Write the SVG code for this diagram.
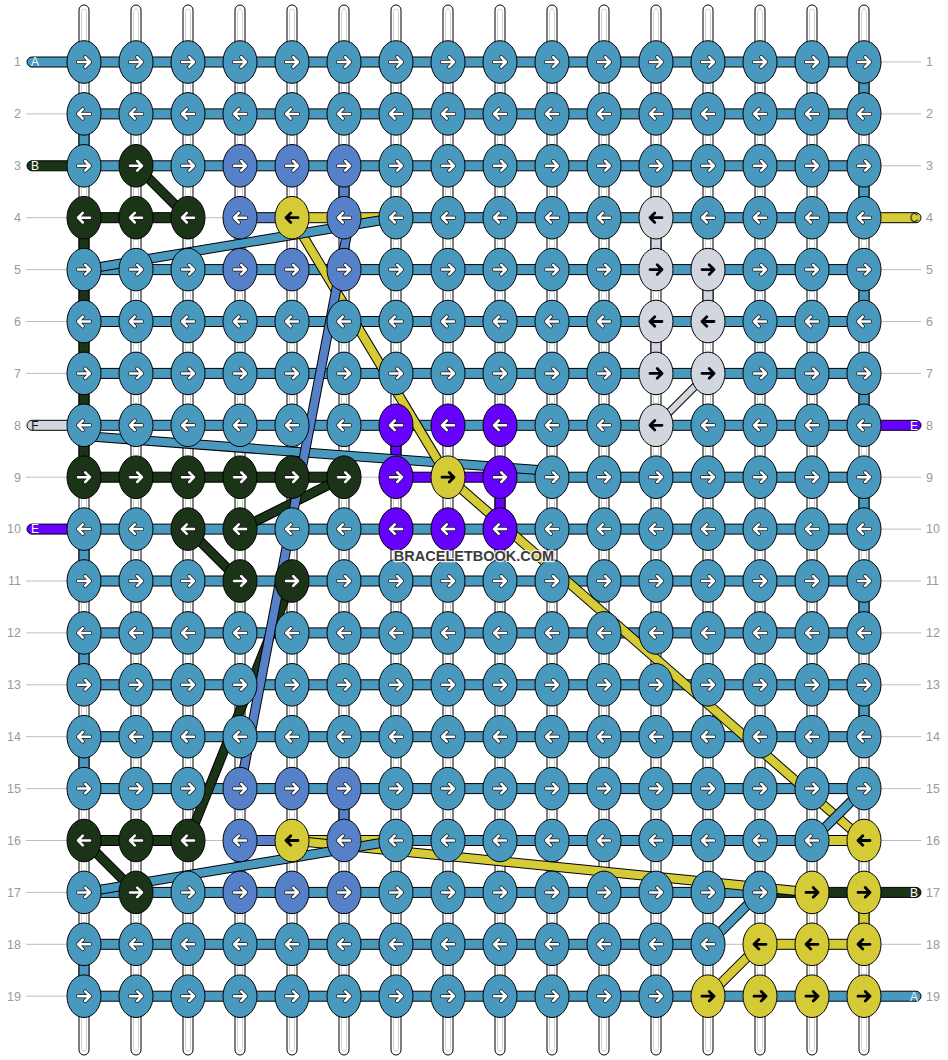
<svg xmlns="http://www.w3.org/2000/svg" width="948" height="1060" viewBox="0 0 948 1060">
<style>
.t{fill:#fff;stroke:#000;stroke-width:1}
.ti{fill:none;stroke:#d2d2d2;stroke-width:1}
.cb{fill:#4999bf;stroke:#000;stroke-width:1}
.cg{fill:#1b3418;stroke:#000;stroke-width:1}
.cp{fill:#5681c9;stroke:#000;stroke-width:1}
.cy{fill:#d5cb37;stroke:#000;stroke-width:1}
.cv{fill:#6600ff;stroke:#000;stroke-width:1}
.cl{fill:#d2d6df;stroke:#000;stroke-width:1}
.gl{fill:none;stroke:#bdbdbd;stroke-width:1}
.o{stroke:#000;stroke-width:10}
.ol{stroke:#000;stroke-width:8}
.db{stroke:#4999bf;stroke-width:8}
.dg{stroke:#1b3418;stroke-width:8}
.dp{stroke:#5681c9;stroke-width:8}
.dy{stroke:#d5cb37;stroke-width:8}
.dl{stroke:#d2d6df;stroke-width:6}
.wo{fill:none;stroke:#1a1a1a;stroke-width:4;stroke-linecap:round;stroke-linejoin:round}
.wi{fill:none;stroke:#fff;stroke-width:2.5;stroke-linecap:round;stroke-linejoin:round}
.ka{fill:none;stroke:#000;stroke-width:2.8;stroke-linecap:round;stroke-linejoin:round}
.lbl{font-family:"Liberation Sans",Arial,sans-serif;font-size:12.5px;fill:#9a9a9a}
.pl{font-family:"Liberation Sans",Arial,sans-serif;font-size:12px;text-anchor:middle}
.wm{font-family:"Liberation Sans",Arial,sans-serif;font-weight:bold;font-size:14.5px;fill:#3c3c3c;stroke:#fff;stroke-opacity:0.85;stroke-width:2.5;paint-order:stroke;stroke-linejoin:round;text-anchor:middle}
</style>
<defs>
<g id="tube"><rect x="-5" y="5" width="10" height="1050" rx="5" class="t"/><rect x="-2.5" y="9" width="5" height="1042" rx="2.5" class="ti"/></g>
<path id="aR" d="M-6 0H6M1.2-4.8L6 0L1.2 4.8"/>
<path id="aL" d="M6 0H-6M-1.2-4.8L-6 0L-1.2 4.8"/>
<g id="wR"><use href="#aR" class="wo"/><use href="#aR" class="wi"/></g>
<g id="wL"><use href="#aL" class="wo"/><use href="#aL" class="wi"/></g>
<g id="bR"><ellipse rx="17" ry="21.3" class="cb"/><use href="#wR"/></g>
<g id="bL"><ellipse rx="17" ry="21.3" class="cb"/><use href="#wL"/></g>
<g id="gR"><ellipse rx="17" ry="21.3" class="cg"/><use href="#wR"/></g>
<g id="gL"><ellipse rx="17" ry="21.3" class="cg"/><use href="#wL"/></g>
<g id="pR"><ellipse rx="17" ry="21.3" class="cp"/><use href="#wR"/></g>
<g id="pL"><ellipse rx="17" ry="21.3" class="cp"/><use href="#wL"/></g>
<g id="vR"><ellipse rx="17" ry="21.3" class="cv"/><use href="#wR"/></g>
<g id="vL"><ellipse rx="17" ry="21.3" class="cv"/><use href="#wL"/></g>
<g id="yR"><ellipse rx="17" ry="21.3" class="cy"/><use href="#aR" class="ka"/></g>
<g id="yL"><ellipse rx="17" ry="21.3" class="cy"/><use href="#aL" class="ka"/></g>
<g id="lR"><ellipse rx="17" ry="21.3" class="cl"/><use href="#aR" class="ka"/></g>
<g id="lL"><ellipse rx="17" ry="21.3" class="cl"/><use href="#aL" class="ka"/></g>
</defs>
<rect width="948" height="1060" fill="#fff"/>
<g id="rowlines">
<path class="gl" d="M26 113.9H84M26 217.7H84M26 269.6H84M26 321.5H84M26 373.4H84M26 477.2H84M26 581H84M26 632.9H84M26 684.8H84M26 736.7H84M26 788.6H84M26 840.5H84M26 892.4H84M26 944.3H84M26 996.2H84"/>
<path class="gl" d="M864 62H921M864 113.9H921M864 165.8H921M864 269.6H921M864 321.5H921M864 373.4H921M864 477.2H921M864 529.1H921M864 581H921M864 632.9H921M864 684.8H921M864 736.7H921M864 788.6H921M864 840.5H921M864 944.3H921"/>
<path class="gl" d="M188 217.7H240M344 477.2H396M188 840.5H240M708 944.3H760"/>
</g>
<g id="connectors">
<g id="tubes">
<use href="#tube" x="84"/><use href="#tube" x="136"/><use href="#tube" x="188"/><use href="#tube" x="240"/><use href="#tube" x="292"/><use href="#tube" x="344"/><use href="#tube" x="396"/><use href="#tube" x="448"/><use href="#tube" x="500"/><use href="#tube" x="552"/><use href="#tube" x="604"/><use href="#tube" x="656"/><use href="#tube" x="708"/><use href="#tube" x="760"/><use href="#tube" x="812"/><use href="#tube" x="864"/>
</g>
<g id="verticals">
<rect x="79" y="113.9" width="10" height="51.9" class="cb"/>
<rect x="79" y="529.1" width="10" height="51.9" class="cb"/>
<rect x="79" y="632.9" width="10" height="51.9" class="cb"/>
<rect x="79" y="736.7" width="10" height="51.9" class="cb"/>
<rect x="79" y="944.3" width="10" height="51.9" class="cb"/>
<rect x="859" y="62" width="10" height="51.9" class="cb"/>
<rect x="859" y="165.8" width="10" height="51.9" class="cb"/>
<rect x="859" y="269.6" width="10" height="51.9" class="cb"/>
<rect x="859" y="373.4" width="10" height="51.9" class="cb"/>
<rect x="859" y="477.2" width="10" height="51.9" class="cb"/>
<rect x="859" y="581" width="10" height="51.9" class="cb"/>
<rect x="859" y="684.8" width="10" height="51.9" class="cb"/>
<rect x="79" y="217.7" width="10" height="259.5" class="cg"/>
<rect x="339" y="165.8" width="10" height="51.9" class="cp"/>
<rect x="339" y="788.6" width="10" height="51.9" class="cp"/>
<rect x="651" y="217.7" width="10" height="51.9" class="cl"/>
<rect x="703" y="269.6" width="10" height="51.9" class="cl"/>
<rect x="651" y="321.5" width="10" height="51.9" class="cl"/>
<rect x="391" y="425.3" width="10" height="51.9" class="cv"/>
<rect x="495" y="477.2" width="10" height="51.9" class="cv"/>
<rect x="859" y="892.4" width="10" height="51.9" class="cy"/>
</g>
<g id="rows">
<rect x="27" y="57" width="837" height="10" rx="5" class="cb"/>
<rect x="84" y="108.9" width="780" height="10" class="cb"/>
<rect x="27" y="160.8" width="57" height="10" rx="5" class="cg"/><rect x="84" y="160.8" width="780" height="10" class="cb"/>
<rect x="84" y="212.7" width="104" height="10" class="cg"/><rect x="240" y="212.7" width="52" height="10" class="cp"/><rect x="292" y="212.7" width="104" height="10" class="cy"/><rect x="864" y="212.7" width="57" height="10" rx="5" class="cy"/><rect x="396" y="212.7" width="468" height="10" class="cb"/>
<rect x="84" y="264.6" width="780" height="10" class="cb"/>
<rect x="84" y="316.5" width="780" height="10" class="cb"/>
<rect x="84" y="368.4" width="780" height="10" class="cb"/>
<rect x="27" y="420.3" width="57" height="10" rx="5" class="cl"/><rect x="864" y="420.3" width="57" height="10" rx="5" class="cv"/><rect x="84" y="420.3" width="780" height="10" class="cb"/>
<rect x="84" y="472.2" width="260" height="10" class="cg"/><rect x="396" y="472.2" width="104" height="10" class="cv"/><rect x="500" y="472.2" width="364" height="10" class="cb"/>
<rect x="27" y="524.1" width="57" height="10" rx="5" class="cv"/><rect x="84" y="524.1" width="780" height="10" class="cb"/>
<rect x="84" y="576" width="780" height="10" class="cb"/>
<rect x="84" y="627.9" width="780" height="10" class="cb"/>
<rect x="84" y="679.8" width="780" height="10" class="cb"/>
<rect x="84" y="731.7" width="780" height="10" class="cb"/>
<rect x="84" y="783.6" width="780" height="10" class="cb"/>
<rect x="84" y="835.5" width="104" height="10" class="cg"/><rect x="240" y="835.5" width="52" height="10" class="cp"/><rect x="292" y="835.5" width="104" height="10" class="cy"/><rect x="396" y="835.5" width="416" height="10" class="cb"/><rect x="812" y="835.5" width="52" height="10" class="cy"/>
<rect x="760" y="887.4" width="161" height="10" rx="5" class="cg"/><rect x="84" y="887.4" width="676" height="10" class="cb"/>
<rect x="84" y="939.3" width="624" height="10" class="cb"/><rect x="760" y="939.3" width="104" height="10" class="cy"/>
<rect x="84" y="991.2" width="837" height="10" rx="5" class="cb"/>
</g>
<g id="diagonals">
<line x1="84" y1="436" x2="552" y2="471" class="o"/><line x1="84" y1="436" x2="552" y2="471" class="db"/>
<line x1="136" y1="165.8" x2="188" y2="217.7" class="o"/><line x1="136" y1="165.8" x2="188" y2="217.7" class="dg"/>
<line x1="344" y1="477.2" x2="240" y2="529.1" class="o"/><line x1="344" y1="477.2" x2="240" y2="529.1" class="dg"/>
<line x1="188" y1="529.1" x2="240" y2="581" class="o"/><line x1="188" y1="529.1" x2="240" y2="581" class="dg"/>
<line x1="292" y1="581" x2="188" y2="840.5" class="o"/><line x1="292" y1="581" x2="188" y2="840.5" class="dg"/>
<line x1="84" y1="840.5" x2="136" y2="892.4" class="o"/><line x1="84" y1="840.5" x2="136" y2="892.4" class="dg"/>
<line x1="292" y1="217.7" x2="448" y2="477.2" class="o"/><line x1="292" y1="217.7" x2="448" y2="477.2" class="dy"/>
<line x1="448" y1="477.2" x2="864" y2="840.5" class="o"/><line x1="448" y1="477.2" x2="864" y2="840.5" class="dy"/>
<line x1="292" y1="840.5" x2="812" y2="892.4" class="o"/><line x1="292" y1="840.5" x2="812" y2="892.4" class="dy"/>
<line x1="760" y1="944.3" x2="708" y2="996.2" class="o"/><line x1="760" y1="944.3" x2="708" y2="996.2" class="dy"/>
<line x1="350" y1="218" x2="240" y2="789" class="o"/><line x1="350" y1="218" x2="240" y2="789" class="dp"/>
<line x1="396" y1="217.7" x2="84" y2="269.6" class="o"/><line x1="396" y1="217.7" x2="84" y2="269.6" class="db"/>
<line x1="396" y1="840.5" x2="84" y2="892.4" class="o"/><line x1="396" y1="840.5" x2="84" y2="892.4" class="db"/>
<line x1="864" y1="788.6" x2="812" y2="840.5" class="o"/><line x1="864" y1="788.6" x2="812" y2="840.5" class="db"/>
<line x1="760" y1="892.4" x2="708" y2="944.3" class="o"/><line x1="760" y1="892.4" x2="708" y2="944.3" class="db"/>
<line x1="708" y1="373.4" x2="656" y2="425.3" class="ol"/><line x1="708" y1="373.4" x2="656" y2="425.3" class="dl"/>
</g>
</g>
<g id="knots">
<g id="k1-1" transform="translate(84 62)"><use href="#bR"/></g>
<g id="k1-2" transform="translate(136 62)"><use href="#bR"/></g>
<g id="k1-3" transform="translate(188 62)"><use href="#bR"/></g>
<g id="k1-4" transform="translate(240 62)"><use href="#bR"/></g>
<g id="k1-5" transform="translate(292 62)"><use href="#bR"/></g>
<g id="k1-6" transform="translate(344 62)"><use href="#bR"/></g>
<g id="k1-7" transform="translate(396 62)"><use href="#bR"/></g>
<g id="k1-8" transform="translate(448 62)"><use href="#bR"/></g>
<g id="k1-9" transform="translate(500 62)"><use href="#bR"/></g>
<g id="k1-10" transform="translate(552 62)"><use href="#bR"/></g>
<g id="k1-11" transform="translate(604 62)"><use href="#bR"/></g>
<g id="k1-12" transform="translate(656 62)"><use href="#bR"/></g>
<g id="k1-13" transform="translate(708 62)"><use href="#bR"/></g>
<g id="k1-14" transform="translate(760 62)"><use href="#bR"/></g>
<g id="k1-15" transform="translate(812 62)"><use href="#bR"/></g>
<g id="k1-16" transform="translate(864 62)"><use href="#bR"/></g>
<g id="k2-1" transform="translate(84 113.9)"><use href="#bL"/></g>
<g id="k2-2" transform="translate(136 113.9)"><use href="#bL"/></g>
<g id="k2-3" transform="translate(188 113.9)"><use href="#bL"/></g>
<g id="k2-4" transform="translate(240 113.9)"><use href="#bL"/></g>
<g id="k2-5" transform="translate(292 113.9)"><use href="#bL"/></g>
<g id="k2-6" transform="translate(344 113.9)"><use href="#bL"/></g>
<g id="k2-7" transform="translate(396 113.9)"><use href="#bL"/></g>
<g id="k2-8" transform="translate(448 113.9)"><use href="#bL"/></g>
<g id="k2-9" transform="translate(500 113.9)"><use href="#bL"/></g>
<g id="k2-10" transform="translate(552 113.9)"><use href="#bL"/></g>
<g id="k2-11" transform="translate(604 113.9)"><use href="#bL"/></g>
<g id="k2-12" transform="translate(656 113.9)"><use href="#bL"/></g>
<g id="k2-13" transform="translate(708 113.9)"><use href="#bL"/></g>
<g id="k2-14" transform="translate(760 113.9)"><use href="#bL"/></g>
<g id="k2-15" transform="translate(812 113.9)"><use href="#bL"/></g>
<g id="k2-16" transform="translate(864 113.9)"><use href="#bL"/></g>
<g id="k3-1" transform="translate(84 165.8)"><use href="#bR"/></g>
<g id="k3-2" transform="translate(136 165.8)"><use href="#gR"/></g>
<g id="k3-3" transform="translate(188 165.8)"><use href="#bR"/></g>
<g id="k3-4" transform="translate(240 165.8)"><use href="#pR"/></g>
<g id="k3-5" transform="translate(292 165.8)"><use href="#pR"/></g>
<g id="k3-6" transform="translate(344 165.8)"><use href="#pR"/></g>
<g id="k3-7" transform="translate(396 165.8)"><use href="#bR"/></g>
<g id="k3-8" transform="translate(448 165.8)"><use href="#bR"/></g>
<g id="k3-9" transform="translate(500 165.8)"><use href="#bR"/></g>
<g id="k3-10" transform="translate(552 165.8)"><use href="#bR"/></g>
<g id="k3-11" transform="translate(604 165.8)"><use href="#bR"/></g>
<g id="k3-12" transform="translate(656 165.8)"><use href="#bR"/></g>
<g id="k3-13" transform="translate(708 165.8)"><use href="#bR"/></g>
<g id="k3-14" transform="translate(760 165.8)"><use href="#bR"/></g>
<g id="k3-15" transform="translate(812 165.8)"><use href="#bR"/></g>
<g id="k3-16" transform="translate(864 165.8)"><use href="#bR"/></g>
<g id="k4-1" transform="translate(84 217.7)"><use href="#gL"/></g>
<g id="k4-2" transform="translate(136 217.7)"><use href="#gL"/></g>
<g id="k4-3" transform="translate(188 217.7)"><use href="#gL"/></g>
<g id="k4-4" transform="translate(240 217.7)"><use href="#pL"/></g>
<g id="k4-5" transform="translate(292 217.7)"><use href="#yL"/></g>
<g id="k4-6" transform="translate(344 217.7)"><use href="#pL"/></g>
<g id="k4-7" transform="translate(396 217.7)"><use href="#bL"/></g>
<g id="k4-8" transform="translate(448 217.7)"><use href="#bL"/></g>
<g id="k4-9" transform="translate(500 217.7)"><use href="#bL"/></g>
<g id="k4-10" transform="translate(552 217.7)"><use href="#bL"/></g>
<g id="k4-11" transform="translate(604 217.7)"><use href="#bL"/></g>
<g id="k4-12" transform="translate(656 217.7)"><use href="#lL"/></g>
<g id="k4-13" transform="translate(708 217.7)"><use href="#bL"/></g>
<g id="k4-14" transform="translate(760 217.7)"><use href="#bL"/></g>
<g id="k4-15" transform="translate(812 217.7)"><use href="#bL"/></g>
<g id="k4-16" transform="translate(864 217.7)"><use href="#bL"/></g>
<g id="k5-1" transform="translate(84 269.6)"><use href="#bR"/></g>
<g id="k5-2" transform="translate(136 269.6)"><use href="#bR"/></g>
<g id="k5-3" transform="translate(188 269.6)"><use href="#bR"/></g>
<g id="k5-4" transform="translate(240 269.6)"><use href="#pR"/></g>
<g id="k5-5" transform="translate(292 269.6)"><use href="#pR"/></g>
<g id="k5-6" transform="translate(344 269.6)"><use href="#pR"/></g>
<g id="k5-7" transform="translate(396 269.6)"><use href="#bR"/></g>
<g id="k5-8" transform="translate(448 269.6)"><use href="#bR"/></g>
<g id="k5-9" transform="translate(500 269.6)"><use href="#bR"/></g>
<g id="k5-10" transform="translate(552 269.6)"><use href="#bR"/></g>
<g id="k5-11" transform="translate(604 269.6)"><use href="#bR"/></g>
<g id="k5-12" transform="translate(656 269.6)"><use href="#lR"/></g>
<g id="k5-13" transform="translate(708 269.6)"><use href="#lR"/></g>
<g id="k5-14" transform="translate(760 269.6)"><use href="#bR"/></g>
<g id="k5-15" transform="translate(812 269.6)"><use href="#bR"/></g>
<g id="k5-16" transform="translate(864 269.6)"><use href="#bR"/></g>
<g id="k6-1" transform="translate(84 321.5)"><use href="#bL"/></g>
<g id="k6-2" transform="translate(136 321.5)"><use href="#bL"/></g>
<g id="k6-3" transform="translate(188 321.5)"><use href="#bL"/></g>
<g id="k6-4" transform="translate(240 321.5)"><use href="#bL"/></g>
<g id="k6-5" transform="translate(292 321.5)"><use href="#bL"/></g>
<g id="k6-6" transform="translate(344 321.5)"><use href="#bL"/></g>
<g id="k6-7" transform="translate(396 321.5)"><use href="#bL"/></g>
<g id="k6-8" transform="translate(448 321.5)"><use href="#bL"/></g>
<g id="k6-9" transform="translate(500 321.5)"><use href="#bL"/></g>
<g id="k6-10" transform="translate(552 321.5)"><use href="#bL"/></g>
<g id="k6-11" transform="translate(604 321.5)"><use href="#bL"/></g>
<g id="k6-12" transform="translate(656 321.5)"><use href="#lL"/></g>
<g id="k6-13" transform="translate(708 321.5)"><use href="#lL"/></g>
<g id="k6-14" transform="translate(760 321.5)"><use href="#bL"/></g>
<g id="k6-15" transform="translate(812 321.5)"><use href="#bL"/></g>
<g id="k6-16" transform="translate(864 321.5)"><use href="#bL"/></g>
<g id="k7-1" transform="translate(84 373.4)"><use href="#bR"/></g>
<g id="k7-2" transform="translate(136 373.4)"><use href="#bR"/></g>
<g id="k7-3" transform="translate(188 373.4)"><use href="#bR"/></g>
<g id="k7-4" transform="translate(240 373.4)"><use href="#bR"/></g>
<g id="k7-5" transform="translate(292 373.4)"><use href="#bR"/></g>
<g id="k7-6" transform="translate(344 373.4)"><use href="#bR"/></g>
<g id="k7-7" transform="translate(396 373.4)"><use href="#bR"/></g>
<g id="k7-8" transform="translate(448 373.4)"><use href="#bR"/></g>
<g id="k7-9" transform="translate(500 373.4)"><use href="#bR"/></g>
<g id="k7-10" transform="translate(552 373.4)"><use href="#bR"/></g>
<g id="k7-11" transform="translate(604 373.4)"><use href="#bR"/></g>
<g id="k7-12" transform="translate(656 373.4)"><use href="#lR"/></g>
<g id="k7-13" transform="translate(708 373.4)"><use href="#lR"/></g>
<g id="k7-14" transform="translate(760 373.4)"><use href="#bR"/></g>
<g id="k7-15" transform="translate(812 373.4)"><use href="#bR"/></g>
<g id="k7-16" transform="translate(864 373.4)"><use href="#bR"/></g>
<g id="k8-1" transform="translate(84 425.3)"><use href="#bL"/></g>
<g id="k8-2" transform="translate(136 425.3)"><use href="#bL"/></g>
<g id="k8-3" transform="translate(188 425.3)"><use href="#bL"/></g>
<g id="k8-4" transform="translate(240 425.3)"><use href="#bL"/></g>
<g id="k8-5" transform="translate(292 425.3)"><use href="#bL"/></g>
<g id="k8-6" transform="translate(344 425.3)"><use href="#bL"/></g>
<g id="k8-7" transform="translate(396 425.3)"><use href="#vL"/></g>
<g id="k8-8" transform="translate(448 425.3)"><use href="#vL"/></g>
<g id="k8-9" transform="translate(500 425.3)"><use href="#vL"/></g>
<g id="k8-10" transform="translate(552 425.3)"><use href="#bL"/></g>
<g id="k8-11" transform="translate(604 425.3)"><use href="#bL"/></g>
<g id="k8-12" transform="translate(656 425.3)"><use href="#lL"/></g>
<g id="k8-13" transform="translate(708 425.3)"><use href="#bL"/></g>
<g id="k8-14" transform="translate(760 425.3)"><use href="#bL"/></g>
<g id="k8-15" transform="translate(812 425.3)"><use href="#bL"/></g>
<g id="k8-16" transform="translate(864 425.3)"><use href="#bL"/></g>
<g id="k9-1" transform="translate(84 477.2)"><use href="#gR"/></g>
<g id="k9-2" transform="translate(136 477.2)"><use href="#gR"/></g>
<g id="k9-3" transform="translate(188 477.2)"><use href="#gR"/></g>
<g id="k9-4" transform="translate(240 477.2)"><use href="#gR"/></g>
<g id="k9-5" transform="translate(292 477.2)"><use href="#gR"/></g>
<g id="k9-6" transform="translate(344 477.2)"><use href="#gR"/></g>
<g id="k9-7" transform="translate(396 477.2)"><use href="#vR"/></g>
<g id="k9-8" transform="translate(448 477.2)"><use href="#yR"/></g>
<g id="k9-9" transform="translate(500 477.2)"><use href="#vR"/></g>
<g id="k9-10" transform="translate(552 477.2)"><use href="#bR"/></g>
<g id="k9-11" transform="translate(604 477.2)"><use href="#bR"/></g>
<g id="k9-12" transform="translate(656 477.2)"><use href="#bR"/></g>
<g id="k9-13" transform="translate(708 477.2)"><use href="#bR"/></g>
<g id="k9-14" transform="translate(760 477.2)"><use href="#bR"/></g>
<g id="k9-15" transform="translate(812 477.2)"><use href="#bR"/></g>
<g id="k9-16" transform="translate(864 477.2)"><use href="#bR"/></g>
<g id="k10-1" transform="translate(84 529.1)"><use href="#bL"/></g>
<g id="k10-2" transform="translate(136 529.1)"><use href="#bL"/></g>
<g id="k10-3" transform="translate(188 529.1)"><use href="#gL"/></g>
<g id="k10-4" transform="translate(240 529.1)"><use href="#gL"/></g>
<g id="k10-5" transform="translate(292 529.1)"><use href="#bL"/></g>
<g id="k10-6" transform="translate(344 529.1)"><use href="#bL"/></g>
<g id="k10-7" transform="translate(396 529.1)"><use href="#vL"/></g>
<g id="k10-8" transform="translate(448 529.1)"><use href="#vL"/></g>
<g id="k10-9" transform="translate(500 529.1)"><use href="#vL"/></g>
<g id="k10-10" transform="translate(552 529.1)"><use href="#bL"/></g>
<g id="k10-11" transform="translate(604 529.1)"><use href="#bL"/></g>
<g id="k10-12" transform="translate(656 529.1)"><use href="#bL"/></g>
<g id="k10-13" transform="translate(708 529.1)"><use href="#bL"/></g>
<g id="k10-14" transform="translate(760 529.1)"><use href="#bL"/></g>
<g id="k10-15" transform="translate(812 529.1)"><use href="#bL"/></g>
<g id="k10-16" transform="translate(864 529.1)"><use href="#bL"/></g>
<g id="k11-1" transform="translate(84 581)"><use href="#bR"/></g>
<g id="k11-2" transform="translate(136 581)"><use href="#bR"/></g>
<g id="k11-3" transform="translate(188 581)"><use href="#bR"/></g>
<g id="k11-4" transform="translate(240 581)"><use href="#gR"/></g>
<g id="k11-5" transform="translate(292 581)"><use href="#gR"/></g>
<g id="k11-6" transform="translate(344 581)"><use href="#bR"/></g>
<g id="k11-7" transform="translate(396 581)"><use href="#bR"/></g>
<g id="k11-8" transform="translate(448 581)"><use href="#bR"/></g>
<g id="k11-9" transform="translate(500 581)"><use href="#bR"/></g>
<g id="k11-10" transform="translate(552 581)"><use href="#bR"/></g>
<g id="k11-11" transform="translate(604 581)"><use href="#bR"/></g>
<g id="k11-12" transform="translate(656 581)"><use href="#bR"/></g>
<g id="k11-13" transform="translate(708 581)"><use href="#bR"/></g>
<g id="k11-14" transform="translate(760 581)"><use href="#bR"/></g>
<g id="k11-15" transform="translate(812 581)"><use href="#bR"/></g>
<g id="k11-16" transform="translate(864 581)"><use href="#bR"/></g>
<g id="k12-1" transform="translate(84 632.9)"><use href="#bL"/></g>
<g id="k12-2" transform="translate(136 632.9)"><use href="#bL"/></g>
<g id="k12-3" transform="translate(188 632.9)"><use href="#bL"/></g>
<g id="k12-4" transform="translate(240 632.9)"><use href="#bL"/></g>
<g id="k12-5" transform="translate(292 632.9)"><use href="#bL"/></g>
<g id="k12-6" transform="translate(344 632.9)"><use href="#bL"/></g>
<g id="k12-7" transform="translate(396 632.9)"><use href="#bL"/></g>
<g id="k12-8" transform="translate(448 632.9)"><use href="#bL"/></g>
<g id="k12-9" transform="translate(500 632.9)"><use href="#bL"/></g>
<g id="k12-10" transform="translate(552 632.9)"><use href="#bL"/></g>
<g id="k12-11" transform="translate(604 632.9)"><use href="#bL"/></g>
<g id="k12-12" transform="translate(656 632.9)"><use href="#bL"/></g>
<g id="k12-13" transform="translate(708 632.9)"><use href="#bL"/></g>
<g id="k12-14" transform="translate(760 632.9)"><use href="#bL"/></g>
<g id="k12-15" transform="translate(812 632.9)"><use href="#bL"/></g>
<g id="k12-16" transform="translate(864 632.9)"><use href="#bL"/></g>
<g id="k13-1" transform="translate(84 684.8)"><use href="#bR"/></g>
<g id="k13-2" transform="translate(136 684.8)"><use href="#bR"/></g>
<g id="k13-3" transform="translate(188 684.8)"><use href="#bR"/></g>
<g id="k13-4" transform="translate(240 684.8)"><use href="#bR"/></g>
<g id="k13-5" transform="translate(292 684.8)"><use href="#bR"/></g>
<g id="k13-6" transform="translate(344 684.8)"><use href="#bR"/></g>
<g id="k13-7" transform="translate(396 684.8)"><use href="#bR"/></g>
<g id="k13-8" transform="translate(448 684.8)"><use href="#bR"/></g>
<g id="k13-9" transform="translate(500 684.8)"><use href="#bR"/></g>
<g id="k13-10" transform="translate(552 684.8)"><use href="#bR"/></g>
<g id="k13-11" transform="translate(604 684.8)"><use href="#bR"/></g>
<g id="k13-12" transform="translate(656 684.8)"><use href="#bR"/></g>
<g id="k13-13" transform="translate(708 684.8)"><use href="#bR"/></g>
<g id="k13-14" transform="translate(760 684.8)"><use href="#bR"/></g>
<g id="k13-15" transform="translate(812 684.8)"><use href="#bR"/></g>
<g id="k13-16" transform="translate(864 684.8)"><use href="#bR"/></g>
<g id="k14-1" transform="translate(84 736.7)"><use href="#bL"/></g>
<g id="k14-2" transform="translate(136 736.7)"><use href="#bL"/></g>
<g id="k14-3" transform="translate(188 736.7)"><use href="#bL"/></g>
<g id="k14-4" transform="translate(240 736.7)"><use href="#bL"/></g>
<g id="k14-5" transform="translate(292 736.7)"><use href="#bL"/></g>
<g id="k14-6" transform="translate(344 736.7)"><use href="#bL"/></g>
<g id="k14-7" transform="translate(396 736.7)"><use href="#bL"/></g>
<g id="k14-8" transform="translate(448 736.7)"><use href="#bL"/></g>
<g id="k14-9" transform="translate(500 736.7)"><use href="#bL"/></g>
<g id="k14-10" transform="translate(552 736.7)"><use href="#bL"/></g>
<g id="k14-11" transform="translate(604 736.7)"><use href="#bL"/></g>
<g id="k14-12" transform="translate(656 736.7)"><use href="#bL"/></g>
<g id="k14-13" transform="translate(708 736.7)"><use href="#bL"/></g>
<g id="k14-14" transform="translate(760 736.7)"><use href="#bL"/></g>
<g id="k14-15" transform="translate(812 736.7)"><use href="#bL"/></g>
<g id="k14-16" transform="translate(864 736.7)"><use href="#bL"/></g>
<g id="k15-1" transform="translate(84 788.6)"><use href="#bR"/></g>
<g id="k15-2" transform="translate(136 788.6)"><use href="#bR"/></g>
<g id="k15-3" transform="translate(188 788.6)"><use href="#bR"/></g>
<g id="k15-4" transform="translate(240 788.6)"><use href="#pR"/></g>
<g id="k15-5" transform="translate(292 788.6)"><use href="#pR"/></g>
<g id="k15-6" transform="translate(344 788.6)"><use href="#pR"/></g>
<g id="k15-7" transform="translate(396 788.6)"><use href="#bR"/></g>
<g id="k15-8" transform="translate(448 788.6)"><use href="#bR"/></g>
<g id="k15-9" transform="translate(500 788.6)"><use href="#bR"/></g>
<g id="k15-10" transform="translate(552 788.6)"><use href="#bR"/></g>
<g id="k15-11" transform="translate(604 788.6)"><use href="#bR"/></g>
<g id="k15-12" transform="translate(656 788.6)"><use href="#bR"/></g>
<g id="k15-13" transform="translate(708 788.6)"><use href="#bR"/></g>
<g id="k15-14" transform="translate(760 788.6)"><use href="#bR"/></g>
<g id="k15-15" transform="translate(812 788.6)"><use href="#bR"/></g>
<g id="k15-16" transform="translate(864 788.6)"><use href="#bR"/></g>
<g id="k16-1" transform="translate(84 840.5)"><use href="#gL"/></g>
<g id="k16-2" transform="translate(136 840.5)"><use href="#gL"/></g>
<g id="k16-3" transform="translate(188 840.5)"><use href="#gL"/></g>
<g id="k16-4" transform="translate(240 840.5)"><use href="#pL"/></g>
<g id="k16-5" transform="translate(292 840.5)"><use href="#yL"/></g>
<g id="k16-6" transform="translate(344 840.5)"><use href="#pL"/></g>
<g id="k16-7" transform="translate(396 840.5)"><use href="#bL"/></g>
<g id="k16-8" transform="translate(448 840.5)"><use href="#bL"/></g>
<g id="k16-9" transform="translate(500 840.5)"><use href="#bL"/></g>
<g id="k16-10" transform="translate(552 840.5)"><use href="#bL"/></g>
<g id="k16-11" transform="translate(604 840.5)"><use href="#bL"/></g>
<g id="k16-12" transform="translate(656 840.5)"><use href="#bL"/></g>
<g id="k16-13" transform="translate(708 840.5)"><use href="#bL"/></g>
<g id="k16-14" transform="translate(760 840.5)"><use href="#bL"/></g>
<g id="k16-15" transform="translate(812 840.5)"><use href="#bL"/></g>
<g id="k16-16" transform="translate(864 840.5)"><use href="#yL"/></g>
<g id="k17-1" transform="translate(84 892.4)"><use href="#bR"/></g>
<g id="k17-2" transform="translate(136 892.4)"><use href="#gR"/></g>
<g id="k17-3" transform="translate(188 892.4)"><use href="#bR"/></g>
<g id="k17-4" transform="translate(240 892.4)"><use href="#pR"/></g>
<g id="k17-5" transform="translate(292 892.4)"><use href="#pR"/></g>
<g id="k17-6" transform="translate(344 892.4)"><use href="#pR"/></g>
<g id="k17-7" transform="translate(396 892.4)"><use href="#bR"/></g>
<g id="k17-8" transform="translate(448 892.4)"><use href="#bR"/></g>
<g id="k17-9" transform="translate(500 892.4)"><use href="#bR"/></g>
<g id="k17-10" transform="translate(552 892.4)"><use href="#bR"/></g>
<g id="k17-11" transform="translate(604 892.4)"><use href="#bR"/></g>
<g id="k17-12" transform="translate(656 892.4)"><use href="#bR"/></g>
<g id="k17-13" transform="translate(708 892.4)"><use href="#bR"/></g>
<g id="k17-14" transform="translate(760 892.4)"><use href="#bR"/></g>
<g id="k17-15" transform="translate(812 892.4)"><use href="#yR"/></g>
<g id="k17-16" transform="translate(864 892.4)"><use href="#yR"/></g>
<g id="k18-1" transform="translate(84 944.3)"><use href="#bL"/></g>
<g id="k18-2" transform="translate(136 944.3)"><use href="#bL"/></g>
<g id="k18-3" transform="translate(188 944.3)"><use href="#bL"/></g>
<g id="k18-4" transform="translate(240 944.3)"><use href="#bL"/></g>
<g id="k18-5" transform="translate(292 944.3)"><use href="#bL"/></g>
<g id="k18-6" transform="translate(344 944.3)"><use href="#bL"/></g>
<g id="k18-7" transform="translate(396 944.3)"><use href="#bL"/></g>
<g id="k18-8" transform="translate(448 944.3)"><use href="#bL"/></g>
<g id="k18-9" transform="translate(500 944.3)"><use href="#bL"/></g>
<g id="k18-10" transform="translate(552 944.3)"><use href="#bL"/></g>
<g id="k18-11" transform="translate(604 944.3)"><use href="#bL"/></g>
<g id="k18-12" transform="translate(656 944.3)"><use href="#bL"/></g>
<g id="k18-13" transform="translate(708 944.3)"><use href="#bL"/></g>
<g id="k18-14" transform="translate(760 944.3)"><use href="#yL"/></g>
<g id="k18-15" transform="translate(812 944.3)"><use href="#yL"/></g>
<g id="k18-16" transform="translate(864 944.3)"><use href="#yL"/></g>
<g id="k19-1" transform="translate(84 996.2)"><use href="#bR"/></g>
<g id="k19-2" transform="translate(136 996.2)"><use href="#bR"/></g>
<g id="k19-3" transform="translate(188 996.2)"><use href="#bR"/></g>
<g id="k19-4" transform="translate(240 996.2)"><use href="#bR"/></g>
<g id="k19-5" transform="translate(292 996.2)"><use href="#bR"/></g>
<g id="k19-6" transform="translate(344 996.2)"><use href="#bR"/></g>
<g id="k19-7" transform="translate(396 996.2)"><use href="#bR"/></g>
<g id="k19-8" transform="translate(448 996.2)"><use href="#bR"/></g>
<g id="k19-9" transform="translate(500 996.2)"><use href="#bR"/></g>
<g id="k19-10" transform="translate(552 996.2)"><use href="#bR"/></g>
<g id="k19-11" transform="translate(604 996.2)"><use href="#bR"/></g>
<g id="k19-12" transform="translate(656 996.2)"><use href="#bR"/></g>
<g id="k19-13" transform="translate(708 996.2)"><use href="#yR"/></g>
<g id="k19-14" transform="translate(760 996.2)"><use href="#yR"/></g>
<g id="k19-15" transform="translate(812 996.2)"><use href="#yR"/></g>
<g id="k19-16" transform="translate(864 996.2)"><use href="#yR"/></g>
</g>
<g id="stringlabels" class="pl">
<text x="35" y="66.3" fill="#eaf4fb">A</text>
<text x="35" y="170.1" fill="#fff">B</text>
<text x="35" y="429.6" fill="#111">F</text>
<text x="35" y="533.4" fill="#fff">E</text>
<text x="914" y="222" fill="#333">C</text>
<text x="914" y="429.6" fill="#fff">E</text>
<text x="914" y="896.7" fill="#fff">B</text>
<text x="914" y="1000.5" fill="#eaf4fb">A</text>
</g>
<g id="rownumbers" class="lbl">
<g text-anchor="end">
<text x="21" y="66.3">1</text><text x="21" y="118.2">2</text><text x="21" y="170.1">3</text><text x="21" y="222">4</text><text x="21" y="273.9">5</text><text x="21" y="325.8">6</text><text x="21" y="377.7">7</text><text x="21" y="429.6">8</text><text x="21" y="481.5">9</text><text x="21" y="533.4">10</text><text x="21" y="585.3">11</text><text x="21" y="637.2">12</text><text x="21" y="689.1">13</text><text x="21" y="741">14</text><text x="21" y="792.9">15</text><text x="21" y="844.8">16</text><text x="21" y="896.7">17</text><text x="21" y="948.6">18</text><text x="21" y="1000.5">19</text>
</g>
<g>
<text x="926" y="66.3">1</text><text x="926" y="118.2">2</text><text x="926" y="170.1">3</text><text x="926" y="222">4</text><text x="926" y="273.9">5</text><text x="926" y="325.8">6</text><text x="926" y="377.7">7</text><text x="926" y="429.6">8</text><text x="926" y="481.5">9</text><text x="926" y="533.4">10</text><text x="926" y="585.3">11</text><text x="926" y="637.2">12</text><text x="926" y="689.1">13</text><text x="926" y="741">14</text><text x="926" y="792.9">15</text><text x="926" y="844.8">16</text><text x="926" y="896.7">17</text><text x="926" y="948.6">18</text><text x="926" y="1000.5">19</text>
</g>
</g>
<text class="wm" x="474" y="561">BRACELETBOOK.COM</text>
</svg>
